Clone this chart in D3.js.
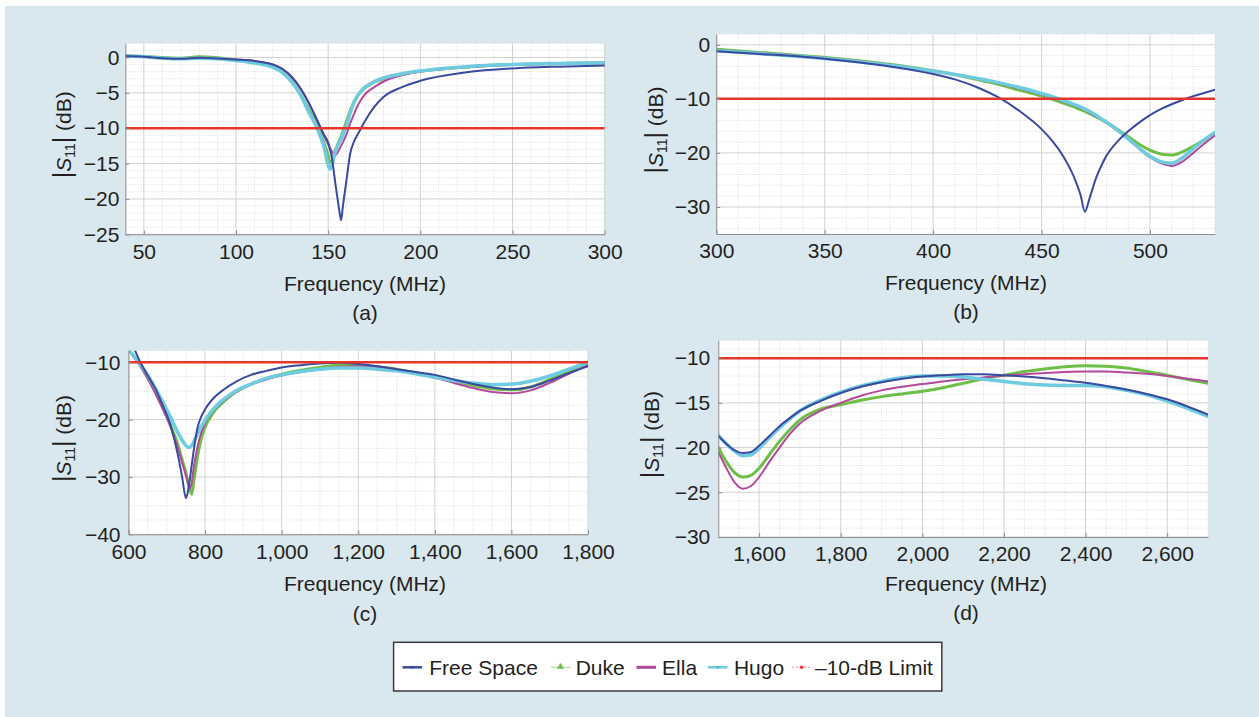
<!DOCTYPE html>
<html><head><meta charset="utf-8">
<script src="https://cdn.jsdelivr.net/npm/d3@7"></script>
<style>
body{margin:0;background:#fff}
svg{display:block}
text{font-family:"Liberation Sans",Arial,Helvetica,sans-serif;fill:#231f20}
</style>
</head><body>
<svg id="chart" width="1259" height="717"></svg>
<script>
// ---------------- DATA ----------------
const seriesNames = ["Free Space", "Duke", "Ella", "Hugo"];
const limitLabel = "\u201310-dB Limit";
const limitValue = -10;

// Panel (a)
const aFreq = [40,50,60,70,80,90,100,110,120,125,130,135,140,143,146,148,150,151,152,154,155,156,157,158,160,162,164,166,168,170,175,180,190,200,225,250,275,300];
const aFree = [0.2,0.1,-0.1,-0.2,-0.05,-0.15,-0.3,-0.5,-1.0,-1.6,-2.7,-4.4,-6.7,-8.3,-10.0,-11.1,-12.0,-13.0,-14.2,-18.0,-19.8,-21.6,-23.0,-21.0,-17.2,-13.5,-11.9,-10.9,-9.95,-9.0,-7.0,-5.6,-4.2,-3.3,-2.1,-1.55,-1.3,-1.15];
const aDuke = [0.25,0.15,0.0,-0.1,0.1,-0.05,-0.35,-0.7,-1.3,-2.0,-3.3,-5.2,-7.6,-9.0,-10.8,-12.3,-13.9,-14.9,-14.6,-13.0,-12.4,-11.8,-11.2,-10.5,-9.0,-7.5,-6.3,-5.4,-4.8,-4.3,-3.5,-3.0,-2.35,-1.95,-1.35,-1.0,-0.85,-0.75];
const aElla = [0.2,0.1,-0.1,-0.2,-0.05,-0.15,-0.3,-0.5,-1.0,-1.6,-2.7,-4.4,-6.7,-8.3,-10.0,-11.2,-12.3,-12.8,-13.3,-13.8,-13.5,-13.0,-12.5,-12.0,-10.8,-9.3,-8.0,-6.8,-5.9,-5.2,-4.2,-3.4,-2.5,-2.0,-1.4,-1.05,-0.9,-0.8];
const aHugo = [0.2,0.1,-0.1,-0.2,-0.1,-0.2,-0.45,-0.8,-1.4,-2.1,-3.4,-5.3,-8.0,-9.4,-11.3,-12.9,-15.2,-15.8,-15.3,-13.3,-12.6,-12.0,-11.6,-10.9,-9.6,-7.8,-6.4,-5.4,-4.7,-4.2,-3.4,-2.9,-2.3,-1.9,-1.3,-1.0,-0.85,-0.75];

// Panel (b)
const bFreq = [300,320,340,360,380,400,410,420,430,440,450,455,460,465,468,470,472,475,478,480,485,490,495,500,505,510,515,520,525,530];
const bFree = [-1.2,-1.7,-2.2,-3.0,-4.0,-5.4,-6.4,-7.8,-9.7,-12.3,-15.6,-17.8,-20.6,-24.5,-27.8,-30.9,-28.6,-24.8,-22.0,-20.5,-17.9,-16.0,-14.4,-13.0,-11.9,-11.0,-10.2,-9.5,-8.9,-8.3];
const bDuke = [-0.8,-1.4,-2.0,-2.7,-3.6,-4.8,-5.5,-6.4,-7.3,-8.4,-9.5,-10.1,-10.8,-11.5,-12.0,-12.3,-12.7,-13.3,-13.9,-14.4,-15.6,-17.0,-18.4,-19.5,-20.2,-20.4,-19.8,-18.8,-17.6,-16.4];
const bElla = [-1.0,-1.5,-2.1,-2.8,-3.7,-4.9,-5.5,-6.3,-7.1,-8.1,-9.2,-9.8,-10.5,-11.2,-11.7,-12.1,-12.5,-13.2,-13.9,-14.4,-15.8,-17.4,-19.2,-20.8,-21.9,-22.4,-21.6,-20.0,-18.3,-16.8];
const bHugo = [-1.1,-1.6,-2.2,-2.9,-3.8,-4.9,-5.5,-6.2,-7.0,-7.9,-9.0,-9.6,-10.3,-11.0,-11.5,-11.9,-12.3,-13.0,-13.8,-14.3,-15.8,-17.4,-19.1,-20.6,-21.6,-21.9,-20.9,-19.2,-17.6,-16.2];

// Panel (c)
const cFreq = [600,615,630,650,670,690,710,730,740,750,755,760,765,770,780,790,800,820,850,880,920,960,1000,1050,1100,1150,1200,1250,1300,1350,1400,1450,1500,1550,1600,1650,1700,1750,1800];
const cFree = [-6.3,-7.7,-9.9,-12.3,-14.6,-17.6,-21.0,-26.5,-30.0,-33.7,-32.6,-30.5,-28.0,-25.5,-21.5,-19.5,-18.2,-16.4,-14.7,-13.4,-12.2,-11.5,-10.9,-10.5,-10.2,-10.1,-10.3,-10.7,-11.2,-11.7,-12.2,-13.0,-13.8,-14.4,-14.7,-14.3,-13.2,-11.9,-10.7];
const cDuke = [-7.8,-9.0,-10.4,-12.7,-15.2,-18.0,-21.0,-24.6,-27.0,-29.3,-30.8,-32.2,-33.0,-31.0,-26.5,-23.3,-21.3,-18.9,-16.8,-15.2,-13.8,-12.8,-12.1,-11.4,-10.9,-10.5,-10.5,-10.8,-11.2,-11.8,-12.4,-13.2,-14.0,-14.6,-14.8,-14.3,-13.0,-11.5,-10.0];
const cElla = [-7.8,-9.2,-10.6,-12.8,-15.4,-18.2,-21.3,-25.2,-27.5,-29.8,-31.0,-32.0,-31.0,-28.5,-24.8,-22.3,-20.6,-18.5,-16.6,-15.2,-13.9,-13.0,-12.3,-11.7,-11.2,-10.8,-10.7,-10.9,-11.4,-12.0,-12.7,-13.6,-14.5,-15.2,-15.4,-14.9,-13.6,-12.0,-10.5];
const cHugo = [-7.8,-9.0,-10.3,-12.2,-14.5,-17.0,-19.6,-22.4,-23.6,-24.5,-24.8,-24.8,-24.5,-23.9,-22.5,-21.2,-20.1,-18.3,-16.4,-15.0,-13.8,-12.8,-12.2,-11.6,-11.2,-11.0,-11.0,-11.2,-11.5,-12.0,-12.6,-13.2,-13.6,-13.9,-13.8,-13.3,-12.4,-11.2,-10.0];

// Panel (d)
const dFreq = [1500,1520,1540,1560,1580,1600,1625,1650,1675,1700,1750,1800,1850,1900,1950,2000,2050,2100,2150,2200,2250,2300,2350,2400,2450,2500,2550,2600,2650,2700];
const dFree = [-18.7,-19.6,-20.3,-20.6,-20.5,-19.8,-18.7,-17.6,-16.7,-15.9,-14.8,-13.9,-13.2,-12.7,-12.3,-12.05,-11.9,-11.8,-11.8,-11.9,-12.05,-12.25,-12.5,-12.75,-13.1,-13.5,-14.0,-14.6,-15.4,-16.3];
const dDuke = [-20.0,-21.6,-22.8,-23.3,-23.1,-22.3,-20.8,-19.3,-18.0,-16.9,-15.7,-15.2,-14.7,-14.3,-14.0,-13.7,-13.3,-12.8,-12.3,-11.9,-11.5,-11.2,-10.95,-10.85,-10.9,-11.1,-11.5,-11.9,-12.4,-12.8];
const dElla = [-20.5,-22.3,-23.9,-24.6,-24.3,-23.3,-21.6,-20.0,-18.5,-17.3,-15.9,-15.0,-14.2,-13.6,-13.2,-12.9,-12.6,-12.35,-12.15,-11.95,-11.8,-11.65,-11.55,-11.5,-11.5,-11.6,-11.75,-12.0,-12.3,-12.6];
const dHugo = [-18.6,-19.6,-20.4,-20.9,-20.8,-20.1,-18.9,-17.8,-16.8,-15.9,-14.7,-13.8,-13.1,-12.6,-12.2,-12.0,-12.0,-12.1,-12.35,-12.6,-12.85,-13.0,-13.05,-13.05,-13.2,-13.6,-14.1,-14.8,-15.6,-16.5];

// Tick values
const aXTicks = [50,100,150,200,250,300];
const aYTicks = [0,-5,-10,-15,-20,-25];
const bXTicks = [300,350,400,450,500];
const bYTicks = [0,-10,-20,-30];
const cXTicks = [600,800,1000,1200,1400,1600,1800];
const cYTicks = [-10,-20,-30,-40];
const dXTicks = [1600,1800,2000,2200,2400,2600];
const dYTicks = [-10,-15,-20,-25,-30];
const panelLabels = ["(a)","(b)","(c)","(d)"];
const xTitle = "Frequency (MHz)";

// ---------------- STYLE / LAYOUT ----------------
const colors = {"Free Space":"#3a4a9f","Duke":"#6dbf46","Ella":"#b4489b","Hugo":"#6fcbe0"};
const widths = {"Free Space":2,"Duke":3,"Ella":2,"Hugo":3.5};
const drawOrder = ["Duke","Ella","Hugo","Free Space"];
const red = "#e8352b";

const panels = [
  {freq:aFreq, ser:{"Free Space":aFree,"Duke":aDuke,"Ella":aElla,"Hugo":aHugo}, xDom:[40,300], yDom:[-25,2],
   xT:aXTicks, yT:aYTicks, xMinor:10, yMinor:1, x0:125.4, x1:604.7, y0:43.3, y1:234.3, cx:365, yl:63, tickPad:10, yPad:6, titleY:283.3, labY:312.7},
  {freq:bFreq, ser:{"Free Space":bFree,"Duke":bDuke,"Ella":bElla,"Hugo":bHugo}, xDom:[300,530], yDom:[-35,2],
   xT:bXTicks, yT:bYTicks, xMinor:10, yMinor:2, x0:716.3, x1:1215, y0:34, y1:234, cx:966, yl:655, tickPad:9.5, yPad:6, titleY:282.7, labY:311},
  {freq:cFreq, ser:{"Free Space":cFree,"Duke":cDuke,"Ella":cElla,"Hugo":cHugo}, xDom:[600,1800], yDom:[-40,-8],
   xT:cXTicks, yT:cYTicks, xMinor:50, yMinor:2.5, x0:128.5, x1:588, y0:350.8, y1:534.3, cx:365, yl:63, tickPad:10, yPad:8, titleY:583.3, labY:613.3},
  {freq:dFreq, ser:{"Free Space":dFree,"Duke":dDuke,"Ella":dElla,"Hugo":dHugo}, xDom:[1500,2700], yDom:[-30,-8],
   xT:dXTicks, yT:dYTicks, xMinor:50, yMinor:1, x0:718.3, x1:1208, y0:340.3, y1:537, cx:966, yl:651, tickPad:9.5, yPad:8, titleY:583.3, labY:612.7}
];

const svg = d3.select("#chart");
svg.append("rect").attr("x",5).attr("y",6).attr("width",1254).attr("height",711).attr("fill","#d9e7ee");

const fmt = d3.format(",");

panels.forEach((p, i) => {
  const x = d3.scaleLinear().domain(p.xDom).range([p.x0, p.x1]);
  const y = d3.scaleLinear().domain(p.yDom).range([p.y1, p.y0]);
  const g = svg.append("g");
  g.append("rect").attr("x",p.x0).attr("y",p.y0).attr("width",p.x1-p.x0).attr("height",p.y1-p.y0).attr("fill","#fff");

  // minor grid
  const xm = d3.range(Math.ceil(p.xDom[0]/p.xMinor)*p.xMinor, p.xDom[1]+1e-6, p.xMinor).filter(v => !p.xT.includes(v));
  const ym = d3.range(Math.ceil(p.yDom[0]/p.yMinor)*p.yMinor, p.yDom[1]+1e-6, p.yMinor).filter(v => !p.yT.includes(v));
  g.selectAll(null).data(xm).join("line")
    .attr("x1",d=>x(d)).attr("x2",d=>x(d)).attr("y1",p.y0).attr("y2",p.y1)
    .attr("stroke","#d4d4d4").attr("stroke-width",0.8).attr("stroke-dasharray","1,1.5");
  g.selectAll(null).data(ym).join("line")
    .attr("y1",d=>y(d)).attr("y2",d=>y(d)).attr("x1",p.x0).attr("x2",p.x1)
    .attr("stroke","#d4d4d4").attr("stroke-width",0.8).attr("stroke-dasharray","1,1.5");
  // major grid
  g.selectAll(null).data(p.xT).join("line")
    .attr("x1",d=>x(d)).attr("x2",d=>x(d)).attr("y1",p.y0).attr("y2",p.y1)
    .attr("stroke","#d2d2d2").attr("stroke-width",1);
  g.selectAll(null).data(p.yT).join("line")
    .attr("y1",d=>y(d)).attr("y2",d=>y(d)).attr("x1",p.x0).attr("x2",p.x1)
    .attr("stroke","#d2d2d2").attr("stroke-width",1);

  // clip
  const cid = "clip"+i;
  svg.append("clipPath").attr("id",cid).append("rect")
    .attr("x",p.x0).attr("y",p.y0).attr("width",p.x1-p.x0).attr("height",p.y1-p.y0);
  const plot = g.append("g").attr("clip-path",`url(#${cid})`);

  const line = d3.line().x(d=>x(d[0])).y(d=>y(d[1])).curve(d3.curveMonotoneX);
  drawOrder.forEach(name => {
    const vals = p.ser[name];
    const pts = p.freq.map((f,k)=>[f, vals[k]]);
    plot.append("path").attr("d", line(pts)).attr("fill","none")
      .attr("stroke", colors[name]).attr("stroke-width", widths[name])
      .attr("stroke-linejoin","round").attr("stroke-linecap","round");
  });
  plot.append("line").attr("x1",x(p.xDom[0])).attr("x2",x(p.xDom[1]))
    .attr("y1",y(limitValue)).attr("y2",y(limitValue))
    .attr("stroke",red).attr("stroke-width",2.5);

  // axes
  const ax = g.append("g").attr("transform",`translate(0,${p.y1})`)
    .call(d3.axisBottom(x).tickValues(p.xT).tickFormat(fmt).tickSizeInner(-4).tickSizeOuter(0).tickPadding(p.tickPad));
  const ay = g.append("g").attr("transform",`translate(${p.x0},0)`)
    .call(d3.axisLeft(y).tickValues(p.yT).tickFormat(fmt).tickSizeInner(-4).tickSizeOuter(0).tickPadding(p.yPad));
  [ax, ay].forEach(a => {
    a.select(".domain").attr("stroke","#8d8d8d");
    a.selectAll(".tick line").attr("stroke","#8d8d8d");
    a.selectAll("text").style("font-size","21px").attr("fill","#231f20")
      .style("font-family","'Liberation Sans',Arial,sans-serif");
  });

  // titles
  g.append("text").attr("x",p.cx).attr("y",p.titleY).attr("dy","0.36em")
    .attr("text-anchor","middle").style("font-size","21px").text(xTitle);
  g.append("text").attr("x",p.cx).attr("y",p.labY).attr("dy","0.36em")
    .attr("text-anchor","middle").style("font-size","21px").text(panelLabels[i]);
  const t = g.append("text")
    .attr("transform",`translate(${p.yl},${(p.y0+p.y1)/2 - 4}) rotate(-90)`)
    .attr("dy","0.36em").attr("text-anchor","middle").style("font-size","21px");
  t.append("tspan").style("font-size","25px").text("|");
  t.append("tspan").style("font-style","italic").text("S");
  t.append("tspan").attr("dy",4).style("font-size","14px").text("11");
  t.append("tspan").attr("dy",-4).style("font-size","25px").text("|");
  t.append("tspan").text(" (dB)");
});

// ---------------- LEGEND ----------------
const lg = svg.append("g");
lg.append("rect").attr("x",393.6).attr("y",642.3).attr("width",548.2).attr("height",48.7)
  .attr("fill","#fff").attr("stroke","#3a3a3a").attr("stroke-width",1.5);
const ly = 667.3;
const legendItems = [
  {name:seriesNames[0], lx:402.5, tx:429.3},
  {name:seriesNames[1], lx:550.7, tx:575.7},
  {name:seriesNames[2], lx:636.4, tx:662.1},
  {name:seriesNames[3], lx:707.9, tx:733.9},
  {name:limitLabel, lx:791.8, tx:815}
];
legendItems.forEach((it, k) => {
  const L = 19.6, mx = it.lx + L/2;
  if (k === 0) {
    lg.append("line").attr("x1",it.lx).attr("x2",it.lx+L).attr("y1",ly).attr("y2",ly).attr("stroke",colors["Free Space"]).attr("stroke-width",2.5);
    lg.append("circle").attr("cx",mx).attr("cy",ly).attr("r",1.4).attr("fill",colors["Free Space"]);
  } else if (k === 1) {
    lg.append("line").attr("x1",it.lx).attr("x2",it.lx+L).attr("y1",ly).attr("y2",ly).attr("stroke","#9fd685").attr("stroke-width",1);
    lg.append("path").attr("d",d3.symbol(d3.symbolTriangle, 22)()).attr("transform",`translate(${mx},${ly-0.5})`).attr("fill",colors["Duke"]);
  } else if (k === 2) {
    lg.append("line").attr("x1",it.lx).attr("x2",it.lx+L).attr("y1",ly).attr("y2",ly).attr("stroke",colors["Ella"]).attr("stroke-width",3);
  } else if (k === 3) {
    lg.append("line").attr("x1",it.lx).attr("x2",it.lx+L).attr("y1",ly).attr("y2",ly).attr("stroke",colors["Hugo"]).attr("stroke-width",2.5);
    lg.append("circle").attr("cx",mx).attr("cy",ly).attr("r",1.2).attr("fill","#3fb3cf");
  } else {
    lg.append("line").attr("x1",it.lx).attr("x2",it.lx+L).attr("y1",ly).attr("y2",ly).attr("stroke","#f4a6a3").attr("stroke-width",1.5).attr("stroke-dasharray","2,2");
    lg.append("circle").attr("cx",mx).attr("cy",ly).attr("r",1.8).attr("fill",red);
  }
  lg.append("text").attr("x",it.tx).attr("y",ly).attr("dy","0.36em").style("font-size","21px").text(it.name);
});
</script>
</body></html>
